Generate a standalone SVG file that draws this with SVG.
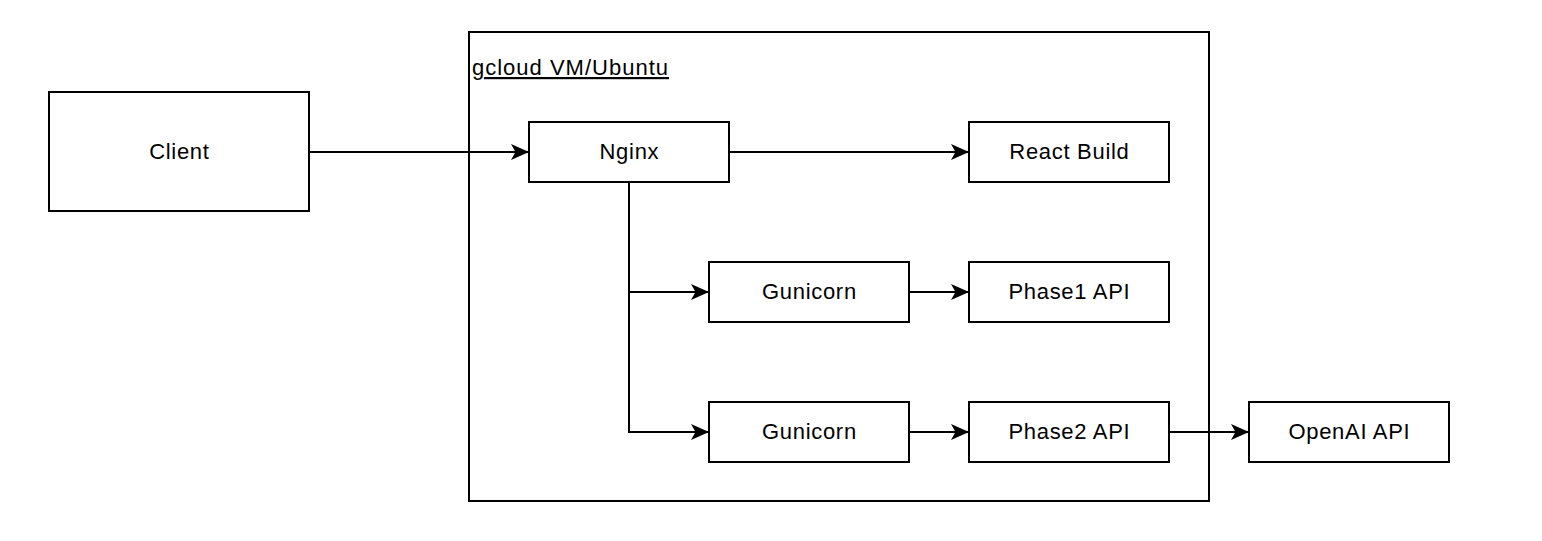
<svg xmlns="http://www.w3.org/2000/svg" width="1542" height="541" viewBox="0 0 1542 541">
<defs>
<style>
.box{fill:#fff;stroke:#000;stroke-width:2}
.lbl{font-family:"Liberation Sans",Arial,sans-serif;font-size:22px;letter-spacing:0.7px;fill:#000;text-anchor:middle}
.edge{fill:none;stroke:#000;stroke-width:2}
</style>
<marker id="arr" viewBox="0 0 18 16" refX="17" refY="8" markerWidth="18" markerHeight="16" markerUnits="userSpaceOnUse" orient="auto">
<path d="M0,0 L18,8 L0,16 L4.5,8 Z" fill="#000"/>
</marker>
</defs>
<rect width="1542" height="541" fill="#fff"/>
<g id="vm">
<rect class="box" x="469" y="32" width="740" height="469"/>
<text x="472" y="75" font-family="'Liberation Sans',Arial,sans-serif" font-size="22" letter-spacing="1" text-decoration="underline">gcloud VM/Ubuntu</text>
</g>
<g id="client"><rect class="box" x="49" y="92" width="260" height="119"/><text class="lbl" x="179.4" y="158.5">Client</text></g>
<g id="nginx"><rect class="box" x="529" y="122" width="200" height="60"/><text class="lbl" x="629.4" y="159">Nginx</text></g>
<g id="react"><rect class="box" x="969" y="122" width="200" height="60"/><text class="lbl" x="1069.4" y="159">React Build</text></g>
<g id="gunicorn1"><rect class="box" x="709" y="262" width="200" height="60"/><text class="lbl" x="809.4" y="299">Gunicorn</text></g>
<g id="phase1"><rect class="box" x="969" y="262" width="200" height="60"/><text class="lbl" x="1069.4" y="299">Phase1 API</text></g>
<g id="gunicorn2"><rect class="box" x="709" y="402" width="200" height="60"/><text class="lbl" x="809.4" y="439">Gunicorn</text></g>
<g id="phase2"><rect class="box" x="969" y="402" width="200" height="60"/><text class="lbl" x="1069.4" y="439">Phase2 API</text></g>
<g id="openai"><rect class="box" x="1249" y="402" width="200" height="60"/><text class="lbl" x="1349.4" y="439">OpenAI API</text></g>
<g id="connectors">
<path class="edge" d="M309,152 H528" marker-end="url(#arr)"/>
<path class="edge" d="M729,152 H968" marker-end="url(#arr)"/>
<path class="edge" d="M629,182 V292 H708" marker-end="url(#arr)"/>
<path class="edge" d="M629,292 V432 H708" marker-end="url(#arr)"/>
<path class="edge" d="M909,292 H968" marker-end="url(#arr)"/>
<path class="edge" d="M909,432 H968" marker-end="url(#arr)"/>
<path class="edge" d="M1169,432 H1248" marker-end="url(#arr)"/>
</g>
</svg>
